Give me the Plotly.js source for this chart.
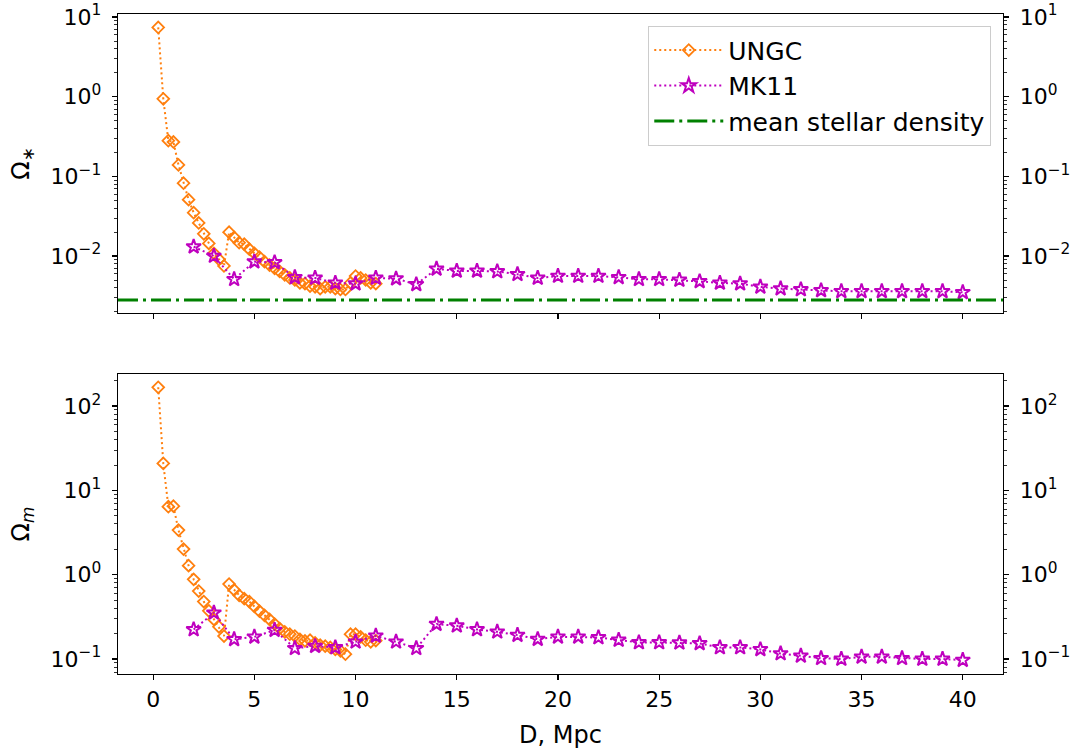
<!DOCTYPE html>
<html>
<head>
<meta charset="utf-8">
<script src="https://cdn.plot.ly/plotly-3.0.1.min.js"></script>
<style>
  html, body { margin: 0; padding: 0; background: #fff; }
  #chart { width: 1085px; height: 749px; }
</style>
</head>
<body>
<div id="chart"></div>
<script>
// Distances (Mpc) of the UNGC shells
const ungcD = [0.25, 0.5, 0.75, 1.0, 1.25, 1.5, 1.75, 2.0, 2.25, 2.5, 2.75, 3.0,
  3.25, 3.5, 3.75, 4.0, 4.25, 4.5, 4.75, 5.0, 5.25, 5.5, 5.75, 6.0, 6.25, 6.5,
  6.75, 7.0, 7.25, 7.5, 7.75, 8.0, 8.25, 8.5, 8.75, 9.0, 9.25, 9.5, 9.75, 10.0,
  10.25, 10.5, 10.75, 11.0];

// Stellar density parameter, UNGC
const ungcOmegaStar = [7.4, 0.94, 0.28, 0.27, 0.139, 0.082, 0.051, 0.035, 0.026,
  0.019, 0.0144, 0.0108, 0.0091, 0.0075, 0.0199, 0.0172, 0.0147, 0.0141, 0.0122,
  0.0108, 0.0097, 0.0085, 0.0077, 0.0070, 0.0064, 0.0058, 0.0053, 0.0050, 0.0046,
  0.0045, 0.0042, 0.0041, 0.0039, 0.0041, 0.0041, 0.0039, 0.0038, 0.0038, 0.0046,
  0.0056, 0.0053, 0.0050, 0.0046, 0.0045];

// Matter density parameter, UNGC
const ungcOmegaM = [167, 20.9, 6.4, 6.5, 3.38, 2.01, 1.28, 0.88, 0.64, 0.48, 0.373,
  0.295, 0.241, 0.187, 0.774, 0.66, 0.57, 0.52, 0.48, 0.42, 0.37, 0.33, 0.295, 0.26,
  0.23, 0.21, 0.197, 0.187, 0.171, 0.164, 0.167, 0.155, 0.146, 0.142, 0.137, 0.130,
  0.125, 0.114, 0.197, 0.197, 0.183, 0.167, 0.160, 0.165];

// Distances (Mpc) of the MK11 shells
const mk11D = [2, 3, 4, 5, 6, 7, 8, 9, 10, 11, 12, 13, 14, 15, 16, 17, 18, 19, 20,
  21, 22, 23, 24, 25, 26, 27, 28, 29, 30, 31, 32, 33, 34, 35, 36, 37, 38, 39, 40];

const mk11OmegaStar = [0.0131, 0.0100, 0.0051, 0.0085, 0.0083, 0.0054, 0.0053,
  0.0046, 0.0045, 0.0053, 0.0052, 0.0044, 0.0069, 0.0065, 0.0065, 0.0064, 0.0059,
  0.0053, 0.0056, 0.0056, 0.0056, 0.0054, 0.0051, 0.0051, 0.0050, 0.0048, 0.0046,
  0.0045, 0.0041, 0.0039, 0.0038, 0.0037, 0.0036, 0.0036, 0.0036, 0.0036, 0.0036,
  0.0036, 0.0035];

const mk11OmegaM = [0.224, 0.353, 0.171, 0.183, 0.220, 0.134, 0.142, 0.137, 0.160,
  0.188, 0.160, 0.134, 0.259, 0.248, 0.224, 0.210, 0.192, 0.172, 0.183, 0.183,
  0.180, 0.168, 0.157, 0.157, 0.156, 0.153, 0.137, 0.137, 0.130, 0.116, 0.109,
  0.102, 0.100, 0.106, 0.106, 0.102, 0.100, 0.100, 0.097];

// Cosmic mean stellar density parameter
const meanStellarDensity = 0.0028;

// Tick labels
const xTicks = [0, 5, 10, 15, 20, 25, 30, 35, 40];
const topDecades = [-2, -1, 0, 1];
const bottomDecades = [-1, 0, 1, 2];

// ---- helpers ----
const FONT = 'DejaVu Sans, sans-serif';
const ORANGE = '#ff7f0e';
const MAGENTA = '#bf00bf';
const GREEN = '#008000';
const TICK_SIZE = 22;
const LABEL_SIZE = 24;

function powLabel(e) {
  return '10<sup>' + (e < 0 ? '\u2212' + (-e) : e) + '</sup>';
}
function minorVals(lo, hi) {
  const out = [];
  for (let e = Math.floor(lo); e <= Math.ceil(hi); e++) {
    for (let k = 2; k <= 9; k++) out.push(k * Math.pow(10, e));
  }
  return out;
}

// x range with 5% padding on each side of the data span
const allD = ungcD.concat(mk11D);
const dMin = Math.min(...allD), dMax = Math.max(...allD);
const pad = 0.05 * (dMax - dMin);
const xRange = [dMin - pad, dMax + pad];

// log ranges of the two panels
const topRange = [-2.715, 1.038];
const bottomRange = [-1.178, 2.38];

function yAxis(decades, range, domain, extra) {
  return Object.assign({
    type: 'log',
    range: range,
    domain: domain,
    tickmode: 'array',
    tickvals: decades.map(e => Math.pow(10, e)),
    ticktext: decades.map(powLabel),
    ticks: 'outside',
    ticklen: 5,
    tickwidth: 1.2,
    tickcolor: '#000',
    minor: {
      tickmode: 'array',
      tickvals: minorVals(range[0], range[1]),
      ticks: 'outside',
      ticklen: 3,
      tickwidth: 0.8,
      tickcolor: '#000',
      showgrid: false
    },
    showline: true,
    linecolor: '#000',
    linewidth: 1.3,
    showgrid: false,
    zeroline: false,
    tickfont: { family: FONT, size: TICK_SIZE, color: '#000' },
    ticklabelstandoff: 6
  }, extra);
}

function xAxis(anchor, showLabels, extra) {
  return Object.assign({
    range: xRange,
    domain: [0, 1],
    anchor: anchor,
    tickmode: 'array',
    tickvals: xTicks,
    ticktext: xTicks.map(String),
    showticklabels: showLabels,
    ticks: 'outside',
    ticklen: 5,
    tickwidth: 1.2,
    tickcolor: '#000',
    showline: true,
    mirror: true,
    linecolor: '#000',
    linewidth: 1.3,
    showgrid: false,
    zeroline: false,
    tickfont: { family: FONT, size: TICK_SIZE, color: '#000' }
  }, extra);
}

const ungcStyle = {
  mode: 'lines+markers',
  line: { color: ORANGE, width: 2, dash: '2px,3px' },
  marker: { symbol: 'diamond-open', size: 9, color: ORANGE, line: { width: 1.8, color: ORANGE } }
};
const mk11Style = {
  mode: 'lines+markers',
  line: { color: MAGENTA, width: 2, dash: '2px,3px' },
  marker: { symbol: 'star-open', size: 11, color: MAGENTA, line: { width: 2, color: MAGENTA } }
};

const traces = [
  Object.assign({ x: ungcD, y: ungcOmegaStar, name: 'UNGC', xaxis: 'x', yaxis: 'y',
    legendgroup: 'a', hoverinfo: 'x+y' }, ungcStyle),
  Object.assign({ x: mk11D, y: mk11OmegaStar, name: 'MK11', xaxis: 'x', yaxis: 'y',
    legendgroup: 'b', hoverinfo: 'x+y' }, mk11Style),
  {
    x: xRange, y: [meanStellarDensity, meanStellarDensity],
    name: 'mean stellar density', mode: 'lines', xaxis: 'x', yaxis: 'y',
    legendgroup: 'c',
    line: { color: GREEN, width: 3, dash: '20px,5px,3px,5px' },
    hoverinfo: 'y'
  },
  Object.assign({ x: ungcD, y: ungcOmegaM, name: 'UNGC', xaxis: 'x2', yaxis: 'y3',
    showlegend: false, hoverinfo: 'x+y' }, ungcStyle),
  Object.assign({ x: mk11D, y: mk11OmegaM, name: 'MK11', xaxis: 'x2', yaxis: 'y3',
    showlegend: false, hoverinfo: 'x+y' }, mk11Style),
  // carriers for the right-hand mirrored axes
  { x: mk11D, y: mk11OmegaStar, xaxis: 'x', yaxis: 'y2', mode: 'markers',
    marker: { opacity: 0 }, showlegend: false, hoverinfo: 'skip' },
  { x: mk11D, y: mk11OmegaM, xaxis: 'x2', yaxis: 'y4', mode: 'markers',
    marker: { opacity: 0 }, showlegend: false, hoverinfo: 'skip' }
];

const topDomain = [0.547, 1];
const bottomDomain = [0, 0.4545];

const layout = {
  width: 1085,
  height: 749,
  margin: { l: 118, r: 82, t: 14, b: 75 },
  paper_bgcolor: '#fff',
  plot_bgcolor: '#fff',
  font: { family: FONT, size: TICK_SIZE, color: '#000' },
  showlegend: true,
  xaxis: xAxis('y', false),
  xaxis2: xAxis('y3', true, {
    title: { text: 'D, Mpc', font: { family: FONT, size: LABEL_SIZE, color: '#000' }, standoff: 19 }
  }),
  yaxis: yAxis(topDecades, topRange, topDomain, {
    anchor: 'x', side: 'left',
    title: { text: '\u03A9<sub>\u2217</sub>', font: { family: FONT, size: LABEL_SIZE, color: '#000' }, standoff: 14 }
  }),
  yaxis2: yAxis(topDecades, topRange, topDomain, {
    anchor: 'x', side: 'right', overlaying: 'y'
  }),
  yaxis3: yAxis(bottomDecades, bottomRange, bottomDomain, {
    anchor: 'x2', side: 'left',
    title: { text: '\u03A9<sub><i>m</i></sub>', font: { family: FONT, size: LABEL_SIZE, color: '#000' }, standoff: 14 }
  }),
  yaxis4: yAxis(bottomDecades, bottomRange, bottomDomain, {
    anchor: 'x2', side: 'right', overlaying: 'y3'
  }),
  legend: {
    x: 0.9864, xanchor: 'right',
    y: 0.9818, yanchor: 'top',
    bgcolor: 'rgba(255,255,255,0.85)',
    bordercolor: '#cccccc',
    borderwidth: 1.3,
    font: { family: FONT, size: 25, color: '#000' },
    itemwidth: 69,
    tracegroupgap: 0,
    traceorder: 'grouped'
  }
};

Plotly.newPlot('chart', traces, layout, { displayModeBar: false, staticPlot: true });
</script>
</body>
</html>
